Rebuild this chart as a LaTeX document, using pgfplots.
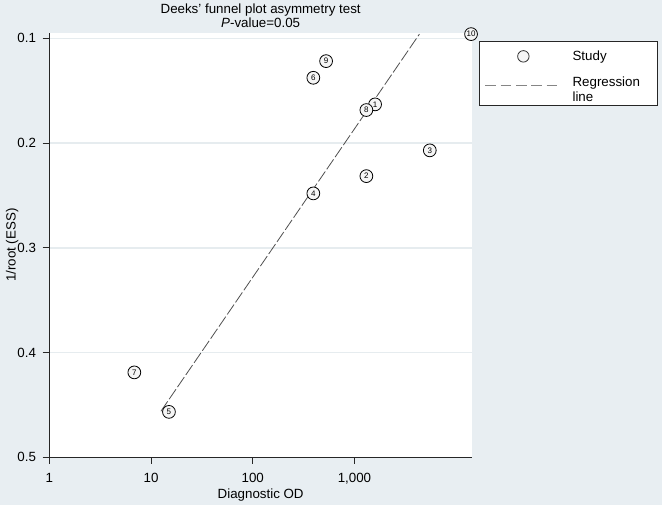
\documentclass[border=0pt]{standalone}
\usepackage{fontspec}
\setmainfont{Liberation Sans}
\usepackage{pgfplots}
\pgfplotsset{compat=1.18}
\definecolor{bgblue}{HTML}{E8EEF2}
\definecolor{gridc}{HTML}{E6ECEF}
\definecolor{regc}{HTML}{505050}

\begin{document}
\begin{tikzpicture}[x=1pt,y=1pt]
\fill[bgblue] (-37,-35.8) rectangle (459.5,343);
\begin{axis}[
  at={(0,0)}, anchor=south west, scale only axis,
  width=317pt, height=318.2pt,
  font=\fontsize{10}{12}\selectfont,
  xmode=log, xmin=1, xmax=14300,
  ymin=0.0949, ymax=0.5, y dir=reverse,
  axis background/.style={fill=white},
  axis x line*=bottom, axis y line*=left,
  axis line style={black!85, line width=0.75pt},
  tick style={black!85, line width=0.75pt},
  tick align=outside, major tick length=5pt,
  xminorticks=false,
  xtick={1,10,100,1000}, xticklabels={1,10,100,{1,000}},
  ytick={0.1,0.2,0.3,0.4,0.5}, yticklabels={0.1,0.2,0.3,0.4,0.5},
  xticklabel style={yshift=-3.5pt},
  yticklabel style={xshift=-1.5pt},
  ymajorgrids, major grid style={gridc, line width=1pt},
  xlabel={Diagnostic OD},
  xlabel style={at={(axis description cs:0.5,-0.09)}, anchor=center},
  ylabel={1/root (ESS)},
  ylabel style={at={(axis description cs:-0.088,0.5)}, anchor=center},
  title={Deeks' funnel plot asymmetry test\\\textit{P}-value=0.05},
  title style={align=center, font=\fontsize{10}{10.5}\selectfont,
    at={(axis description cs:0.5,1)}, anchor=south, inner sep=0pt, yshift=-2pt},
  clip=false,
  legend style={at={(axis description cs:1.0166,0.982)}, anchor=north west,
    draw=black!85, line width=0.75pt, fill=white,
    font=\fontsize{10}{11.5}\selectfont,
    inner xsep=4pt, inner ysep=5pt, row sep=6pt, column sep=6pt},
  legend cell align=left,
]
% regression line, drawn first so the studies sit on top
\addplot[regc, line width=0.6pt, dash pattern=on 9pt off 2pt, forget plot]
  coordinates {(12.5,0.456) (4350,0.0959)};

\addplot[only marks, mark=*, mark size=4.8pt,
  mark options={draw=black, fill=gray!8, line width=0.6pt},
  nodes near coords, point meta=explicit symbolic,
  nodes near coords align=center,
  every node near coord/.append style={font=\fontsize{6}{6}\selectfont,
    inner sep=0pt, anchor=center},
  legend image code/.code={\draw[black!80, fill=gray!8, line width=0.6pt]
    (28.5pt,0pt) circle (4.3pt);}]
  table[meta=lab] {
x     y      lab
1595  0.1630 1
1309  0.2315 2
5500  0.2069 3
394   0.2480 4
15.0  0.4566 5
394   0.1376 6
6.85  0.4189 7
1309  0.1684 8
526   0.1217 9
14000 0.0959 10
};
\addlegendentry{\makebox[58pt][l]{Study}}
\addlegendimage{legend image code/.code={\draw[regc!70, line width=0.8pt,
  dash pattern=on 8pt off 3.5pt] (0pt,0pt) -- (57pt,0pt);}}
\addlegendentry{\makebox[58pt][l]{\begin{tabular}{@{}l@{}}Regression\\line\end{tabular}}}
\end{axis}
\pgfresetboundingbox
\path (-37,-35.8) rectangle (459.5,343);
\end{tikzpicture}
\end{document}
